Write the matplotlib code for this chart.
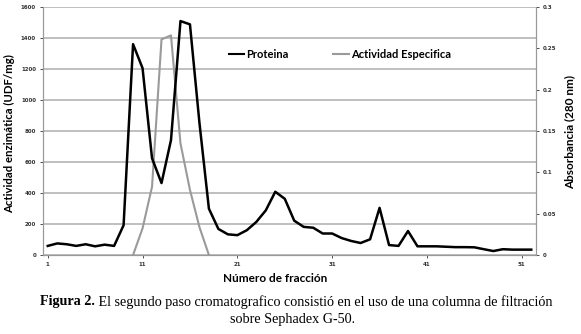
import matplotlib.pyplot as plt
from matplotlib.lines import Line2D

# datos
fracciones = list(range(1, 53))
proteina = [0.011, 0.014, 0.013, 0.011, 0.013, 0.0105, 0.0125, 0.011, 0.036, 0.255,
            0.226, 0.117, 0.087, 0.139, 0.283, 0.279, 0.16, 0.056, 0.0315, 0.025,
            0.024, 0.030, 0.040, 0.054, 0.0765, 0.068, 0.0415, 0.034, 0.033, 0.026,
            0.026, 0.0205, 0.017, 0.0145, 0.019, 0.057, 0.012, 0.011, 0.029, 0.0105,
            0.0105, 0.0105, 0.010, 0.0095, 0.0095, 0.0093, 0.007, 0.0048, 0.007, 0.0065,
            0.0065, 0.0065]
act_fracciones = list(range(10, 19))
actividad = [0, 172, 440, 1391, 1417, 720, 420, 180, 0]
xticks = [1, 11, 21, 31, 41, 51]

W, H = 581, 334
fig = plt.figure(figsize=(W / 100, H / 100), dpi=100)
ax = fig.add_axes([43 / W, 1 - 255 / H, (536 - 43) / W, 248 / H])
ax2 = ax.twinx()

ax.plot(act_fracciones, actividad, color='#9a9a9a', lw=1.5, zorder=3)
ax2.plot(fracciones, proteina, color='black', lw=1.8, zorder=3)

ax.set_xlim(0.5, 52.5)
ax.set_ylim(0, 1600)
ax2.set_ylim(0, 0.3)
ax.set_yticks(range(0, 1601, 200))
ax2.set_yticks([0, 0.05, 0.1, 0.15, 0.2, 0.25, 0.3])
ax2.set_yticklabels(['0', '0.05', '0.1', '0.15', '0.2', '0.25', '0.3'])
ax.set_xticks(xticks)
ax.yaxis.grid(True, color='#b4b4b4', lw=1.2)
ax.set_axisbelow(True)

for a in (ax, ax2):
    a.tick_params(labelsize=4, length=2, width=0.6, pad=3, colors='#333333')
    a.spines['top'].set_visible(False)
    for s in ('left', 'right', 'bottom'):
        a.spines[s].set_color('#999999')
        a.spines[s].set_linewidth(0.8)
    for lab in a.get_xticklabels() + a.get_yticklabels():
        lab.set_fontweight('bold')

fig.text(10 / W, 1 - 134 / H, 'Actividad enzimática (UDF/mg)', rotation=90,
         ha='center', va='center', fontsize=8.2, fontweight='bold', family='Lato')
fig.text(570 / W, 1 - 132 / H, 'Absorbancia (280 nm)', rotation=90,
         ha='center', va='center', fontsize=8.5, fontweight='bold', family='Lato')
fig.text(275 / W, 1 - 278 / H, 'Número de fracción', ha='center', va='center',
         fontsize=8.5, fontweight='bold', family='Lato')

handles = [Line2D([], [], color='black', lw=1.5), Line2D([], [], color='#9a9a9a', lw=1.5)]
fig.legend(handles, ['Proteina', 'Actividad Especifica'], loc='center',
           bbox_to_anchor=(340 / W, 1 - 54 / H), ncol=2, frameon=False,
           handlelength=1.4, handletextpad=0.2, columnspacing=4,
           prop={'family': 'Lato', 'weight': 'bold', 'size': 8})

# pie de figura, "Figura 2." en negrita
cap1 = fig.text(294 / W, 1 - 302 / H,
                'Figura 2. El segundo paso cromatografico consistió en el uso de una columna de filtración',
                ha='center', va='center', fontsize=10.2, family='Liberation Serif', alpha=0)
fig.canvas.draw()
r = fig.canvas.get_renderer()
bb = cap1.get_window_extent(r)
t1 = fig.text(bb.x0 / W, 1 - 302 / H, 'Figura 2.', ha='left', va='center',
              fontsize=10.2, family='Liberation Serif', fontweight='bold')
b1 = t1.get_window_extent(r)
fig.text(b1.x1 / W, 1 - 302 / H,
         ' El segundo paso cromatografico consistió en el uso de una columna de filtración',
         ha='left', va='center', fontsize=10.2, family='Liberation Serif')
fig.text(293 / W, 1 - 320 / H, 'sobre Sephadex G-50.', ha='center', va='center',
         fontsize=10.2, family='Liberation Serif')

fig.savefig('out.png', dpi=100)
